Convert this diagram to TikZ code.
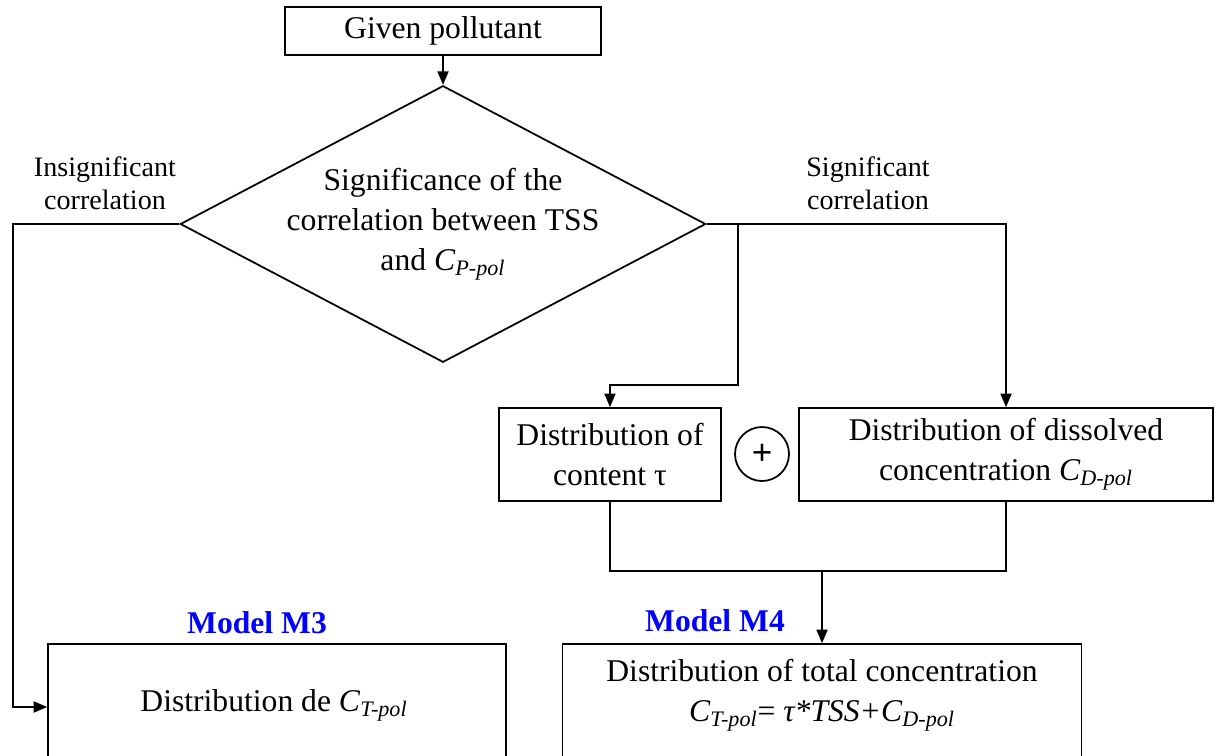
\documentclass[tikz,border=0pt]{standalone}
\usepackage{fontspec}
\setmainfont{Liberation Serif}
\newfontfamily\plusfont{Liberation Sans}
\usetikzlibrary{shapes.geometric, arrows.meta}
\newcommand{\conc}[1]{\textit{C}\textsubscript{\textit{#1-pol}}}
\tikzstyle{process} = [rectangle, draw, line width=1pt, text centered, align=center, inner sep=0pt, font=\fontsize{18pt}{22.8pt}\selectfont]
\tikzstyle{decision} = [diamond, draw, line width=1pt, aspect=1.9, inner sep=0pt, align=center, font=\fontsize{18pt}{22.8pt}\selectfont]
\tikzstyle{branchlabel} = [align=center, font=\fontsize{16pt}{18.7pt}\selectfont]
\tikzstyle{modellabel} = [text=blue, font=\fontsize{18pt}{22.8pt}\selectfont\bfseries]
\tikzstyle{bodytext} = [align=center, font=\fontsize{18pt}{22.8pt}\selectfont]
\tikzstyle{arrow} = [line width=1pt,->,>={Triangle[length=0.27cm,width=0.22cm]}]
\tikzstyle{line} = [line width=1pt]

\begin{document}
\begin{tikzpicture}[x=0.02cm, y=-0.02cm]
            \clip (0,0) rectangle (1216,755);
            \node [process, minimum width=6.32cm, minimum height=0.96cm] at (443,31) (given) {Given pollutant};
            \node [decision] at (443,224) (dia) {Significance of the\\ correlation between TSS\\ and \conc{P}};
            \node [branchlabel] at (105,183) (insig) {Insignificant\\ correlation};
            \node [branchlabel] at (868,183) (sig) {Significant\\ correlation};
            \node [process, minimum width=4.44cm, minimum height=1.86cm] at (610,454.5) (content) {Distribution of\\ content τ};
            \node [circle, draw, line width=1pt, minimum size=1.08cm, inner sep=0pt, font=\plusfont\fontsize{20pt}{24pt}\selectfont] at (762,454) (plus) {+};
            \node [process, minimum width=8.28cm, minimum height=1.86cm] at (1006,454.5) (dissolved) {Distribution of dissolved\\ concentration \conc{D}};
            \node [modellabel] at (257,623) (labm3) {Model M3};
            \node [modellabel] at (715,621) (labm4) {Model M4};
            \node [process, minimum width=9.16cm, minimum height=2.52cm] at (277,707) (m3) {};
            \node [process, minimum width=10.38cm, minimum height=2.52cm] at (822,707) (m4) {};
            \node [bodytext] at (274,705) (m3text) {Distribution de \conc{T}};
            \node [bodytext] at (822,695) (m4text) {Distribution of total concentration\\ \conc{T}= \textit{τ*TSS+}\conc{D}};
            \coordinate (lcorner) at (13,224);
            \coordinate (branch) at (738,224);
            \coordinate (bend) at (738,385);
            \coordinate (merge) at (822,571);
            \draw [arrow] (given.south) -- (dia.north);
            \draw [arrow] (dia.west) -- (lcorner) |- (m3.west);
            \draw [arrow] (dia.east) -| (dissolved.north);
            \draw [arrow] (branch) -- (bend) -| (content.north);
            \draw [line] (content.south) |- (merge) -| (dissolved.south);
            \draw [arrow] (merge) -- (m4.north);
            \end{tikzpicture}
\end{document}
